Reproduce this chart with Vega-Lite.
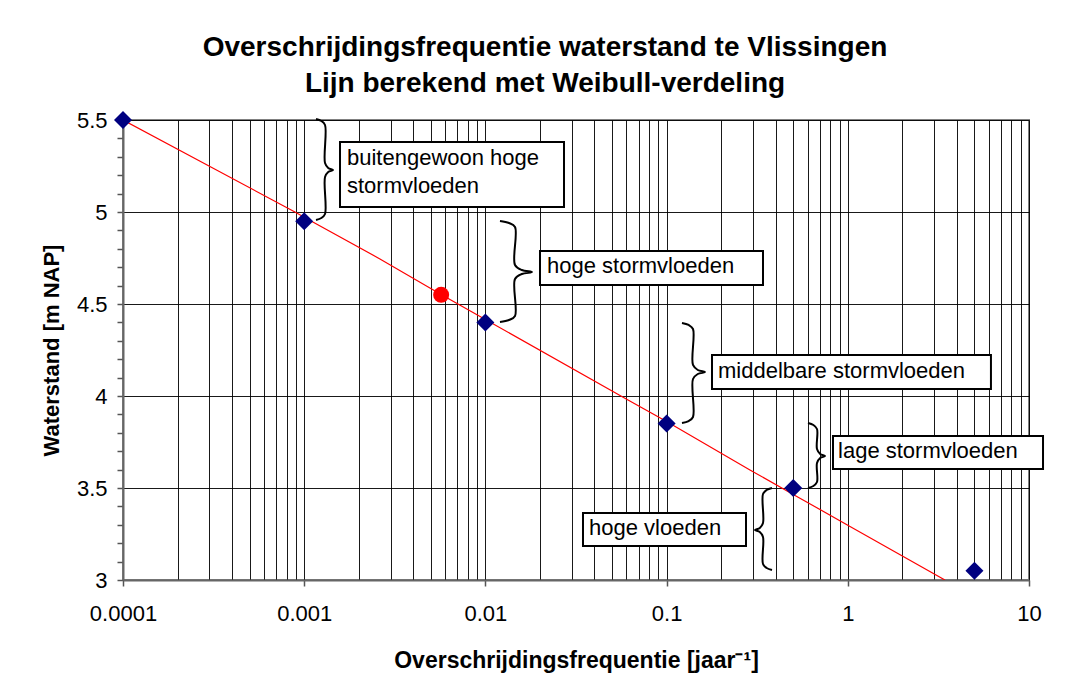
{
  "$schema": "https://vega.github.io/schema/vega-lite/v6.json",
  "autosize": {"type": "none"},
  "padding": {"left": 123, "top": 120, "right": 47, "bottom": 113},
  "width": 906,
  "height": 460,
  "background": "white",
  "config": {
    "font": "Liberation Sans",
    "view": {"stroke": "#808080", "strokeWidth": 2},
    "axis": {"labelFont": "Liberation Sans", "titleFont": "Liberation Sans"}
  },
  "title": {
    "text": ["Overschrijdingsfrequentie waterstand te Vlissingen", "Lijn berekend met Weibull-verdeling"],
    "fontSize": 28,
    "fontWeight": "bold",
    "lineHeight": 36,
    "anchor": "middle",
    "offset": 11,
    "dx": -31,
    "color": "black"
  },
  "datasets": {
    "curve": [
      {"x": 0.0001, "y": 5.5},
      {"x": 0.000889, "y": 5.0},
      {"x": 0.001, "y": 4.972},
      {"x": 0.002618, "y": 4.745},
      {"x": 0.005666, "y": 4.553},
      {"x": 0.01, "y": 4.416},
      {"x": 0.06124, "y": 3.978},
      {"x": 0.1, "y": 3.861},
      {"x": 0.2884, "y": 3.598},
      {"x": 0.5, "y": 3.465},
      {"x": 1, "y": 3.298},
      {"x": 3.436, "y": 3.0}
    ],
    "obs": [
      {"x": 0.0001, "y": 5.5},
      {"x": 0.001, "y": 4.95},
      {"x": 0.01, "y": 4.4},
      {"x": 0.1, "y": 3.85},
      {"x": 0.5, "y": 3.5},
      {"x": 5, "y": 3.05}
    ],
    "red": [{"x": 0.0057, "y": 4.55}],
    "boxes": [
      {"x": 0.0015762, "x2": 0.027152, "y": 5.380, "y2": 5.027},
      {"x": 0.020013, "x2": 0.3404, "y": 4.788, "y2": 4.603},
      {"x": 0.17807, "x2": 6.166, "y": 4.223, "y2": 4.038},
      {"x": 0.8285, "x2": 11.95, "y": 3.783, "y2": 3.603},
      {"x": 0.034562, "x2": 0.27428, "y": 3.364, "y2": 3.185}
    ],
    "labels": [
      {"x": 0.0017226, "y": 5.255, "t": "buitengewoon hoge"},
      {"x": 0.0017226, "y": 5.103, "t": "stormvloeden"},
      {"x": 0.021878, "y": 4.668, "t": "hoge stormvloeden"},
      {"x": 0.19219, "y": 4.098, "t": "middelbare stormvloeden"},
      {"x": 0.8831, "y": 3.663, "t": "lage stormvloeden"},
      {"x": 0.0373, "y": 3.2446, "t": "hoge vloeden"}
    ],
    "braces": [
      {"b": 1, "i": 1, "x": 0.001162, "y": 5.5054},
      {"b": 1, "i": 2, "x": 0.001244, "y": 5.4946},
      {"b": 1, "i": 3, "x": 0.001303, "y": 5.4728},
      {"b": 1, "i": 4, "x": 0.001303, "y": 5.2663},
      {"b": 1, "i": 5, "x": 0.001357, "y": 5.2391},
      {"b": 1, "i": 6, "x": 0.001442, "y": 5.2283},
      {"b": 1, "i": 7, "x": 0.001357, "y": 5.2174},
      {"b": 1, "i": 8, "x": 0.001303, "y": 5.1902},
      {"b": 1, "i": 9, "x": 0.001303, "y": 4.9891},
      {"b": 1, "i": 10, "x": 0.001244, "y": 4.9674},
      {"b": 1, "i": 11, "x": 0.001162, "y": 4.9565},
      {"b": 2, "i": 1, "x": 0.012036, "y": 4.9511},
      {"b": 2, "i": 2, "x": 0.013496, "y": 4.9402},
      {"b": 2, "i": 3, "x": 0.014568, "y": 4.9185},
      {"b": 2, "i": 4, "x": 0.014568, "y": 4.7120},
      {"b": 2, "i": 5, "x": 0.015883, "y": 4.6848},
      {"b": 2, "i": 6, "x": 0.018075, "y": 4.6739},
      {"b": 2, "i": 7, "x": 0.015883, "y": 4.6630},
      {"b": 2, "i": 8, "x": 0.014568, "y": 4.6359},
      {"b": 2, "i": 9, "x": 0.014568, "y": 4.4348},
      {"b": 2, "i": 10, "x": 0.013496, "y": 4.4130},
      {"b": 2, "i": 11, "x": 0.012036, "y": 4.4022},
      {"b": 3, "i": 1, "x": 0.12160, "y": 4.3967},
      {"b": 3, "i": 2, "x": 0.13228, "y": 4.3859},
      {"b": 3, "i": 3, "x": 0.13985, "y": 4.3641},
      {"b": 3, "i": 4, "x": 0.13985, "y": 4.1685},
      {"b": 3, "i": 5, "x": 0.14862, "y": 4.1413},
      {"b": 3, "i": 6, "x": 0.16292, "y": 4.1304},
      {"b": 3, "i": 7, "x": 0.14862, "y": 4.1196},
      {"b": 3, "i": 8, "x": 0.13985, "y": 4.0924},
      {"b": 3, "i": 9, "x": 0.13985, "y": 3.8859},
      {"b": 3, "i": 10, "x": 0.13228, "y": 3.8641},
      {"b": 3, "i": 11, "x": 0.12160, "y": 3.8533},
      {"b": 4, "i": 1, "x": 0.60303, "y": 3.8533},
      {"b": 4, "i": 2, "x": 0.64588, "y": 3.8424},
      {"b": 4, "i": 3, "x": 0.67608, "y": 3.8207},
      {"b": 4, "i": 4, "x": 0.67608, "y": 3.7120},
      {"b": 4, "i": 5, "x": 0.70414, "y": 3.6848},
      {"b": 4, "i": 6, "x": 0.74845, "y": 3.6739},
      {"b": 4, "i": 7, "x": 0.70414, "y": 3.6630},
      {"b": 4, "i": 8, "x": 0.67608, "y": 3.6359},
      {"b": 4, "i": 9, "x": 0.67608, "y": 3.5326},
      {"b": 4, "i": 10, "x": 0.64588, "y": 3.5109},
      {"b": 4, "i": 11, "x": 0.60303, "y": 3.5},
      {"b": 5, "i": 1, "x": 0.38166, "y": 3.5},
      {"b": 5, "i": 2, "x": 0.35635, "y": 3.4891},
      {"b": 5, "i": 3, "x": 0.34041, "y": 3.4674},
      {"b": 5, "i": 4, "x": 0.34041, "y": 3.3098},
      {"b": 5, "i": 5, "x": 0.32685, "y": 3.2826},
      {"b": 5, "i": 6, "x": 0.30751, "y": 3.2717},
      {"b": 5, "i": 7, "x": 0.32685, "y": 3.2609},
      {"b": 5, "i": 8, "x": 0.34041, "y": 3.2337},
      {"b": 5, "i": 9, "x": 0.34041, "y": 3.0870},
      {"b": 5, "i": 10, "x": 0.35635, "y": 3.0652},
      {"b": 5, "i": 11, "x": 0.38166, "y": 3.0543}
    ]
  },
  "encoding": {
    "x": {
      "field": "x", "type": "quantitative",
      "scale": {"type": "log", "domain": [0.0001, 10], "nice": false},
      "axis": {
        "orient": "bottom",
        "title": "Overschrijdingsfrequentie [jaar⁻¹]",
        "titleFontSize": 23, "titleFontWeight": "bold", "titleColor": "black", "titlePadding": 25,
        "values": [0.0001, 0.0002, 0.0003, 0.0004, 0.0005, 0.0006, 0.0007, 0.0008, 0.0009,
                   0.001, 0.002, 0.003, 0.004, 0.005, 0.006, 0.007, 0.008, 0.009,
                   0.01, 0.02, 0.03, 0.04, 0.05, 0.06, 0.07, 0.08, 0.09,
                   0.1, 0.2, 0.3, 0.4, 0.5, 0.6, 0.7, 0.8, 0.9,
                   1, 2, 3, 4, 5, 6, 7, 8, 9, 10],
        "labelExpr": "abs(log(datum.value)/LN10 - round(log(datum.value)/LN10)) < 0.000001 ? format(datum.value, '~g') : ''",
        "labelFontSize": 22, "labelColor": "black", "labelPadding": 17,
        "labelOverlap": false, "labelFlush": false, "labelBound": false,
        "grid": true, "gridColor": "#000000", "gridWidth": 1, "gridOpacity": 0.9,
        "tickColor": "#555555", "tickSize": 6, "tickWidth": 1.5,
        "tickOpacity": {"condition": {"test": "abs(log(datum.value)/LN10 - round(log(datum.value)/LN10)) < 0.000001", "value": 1}, "value": 0},
        "domainColor": "#666666", "domainWidth": 2
      }
    },
    "y": {
      "field": "y", "type": "quantitative",
      "scale": {"domain": [3, 5.5], "nice": false, "zero": false},
      "axis": {
        "orient": "left",
        "title": "Waterstand [m NAP]",
        "titleFontSize": 22, "titleFontWeight": "bold", "titleColor": "black", "titlePadding": 13,
        "values": [3, 3.1, 3.2, 3.3, 3.4, 3.5, 3.6, 3.7, 3.8, 3.9, 4, 4.1, 4.2, 4.3, 4.4, 4.5, 4.6, 4.7, 4.8, 4.9, 5, 5.1, 5.2, 5.3, 5.4, 5.5],
        "labelExpr": "abs(datum.value*2 - round(datum.value*2)) < 0.001 ? format(datum.value, '.1~f') : ''",
        "labelFontSize": 22, "labelColor": "black", "labelPadding": 10, "labelOverlap": false,
        "grid": true, "gridColor": "#000000", "gridWidth": 1,
        "gridOpacity": {"condition": {"test": "abs(datum.value*2 - round(datum.value*2)) < 0.001", "value": 0.9}, "value": 0},
        "tickColor": "#555555", "tickSize": 6, "tickWidth": 1.5,
        "domainColor": "#666666", "domainWidth": 2
      }
    }
  },
  "layer": [
    {
      "data": {"name": "curve"},
      "mark": {"type": "line", "color": "#ff0000", "strokeWidth": 1.2, "clip": true}
    },
    {
      "data": {"name": "boxes"},
      "mark": {"type": "rect", "fill": "white", "stroke": "black", "strokeWidth": 2, "clip": false},
      "encoding": {
        "x2": {"field": "x2"},
        "y2": {"field": "y2"}
      }
    },
    {
      "data": {"name": "labels"},
      "mark": {"type": "text", "align": "left", "baseline": "alphabetic", "fontSize": 22, "color": "black", "clip": false},
      "encoding": {
        "text": {"field": "t"}
      }
    },
    {
      "data": {"name": "braces"},
      "mark": {"type": "line", "color": "black", "strokeWidth": 2, "interpolate": "catmull-rom", "clip": false},
      "encoding": {
        "detail": {"field": "b"},
        "order": {"field": "i", "type": "quantitative"}
      }
    },
    {
      "data": {"name": "obs"},
      "mark": {"type": "point", "shape": "diamond", "filled": true, "color": "#000080", "size": 324, "opacity": 1, "clip": false}
    },
    {
      "data": {"name": "red"},
      "mark": {"type": "point", "shape": "circle", "filled": true, "color": "#ff0000", "size": 256, "opacity": 1}
    }
  ]
}
